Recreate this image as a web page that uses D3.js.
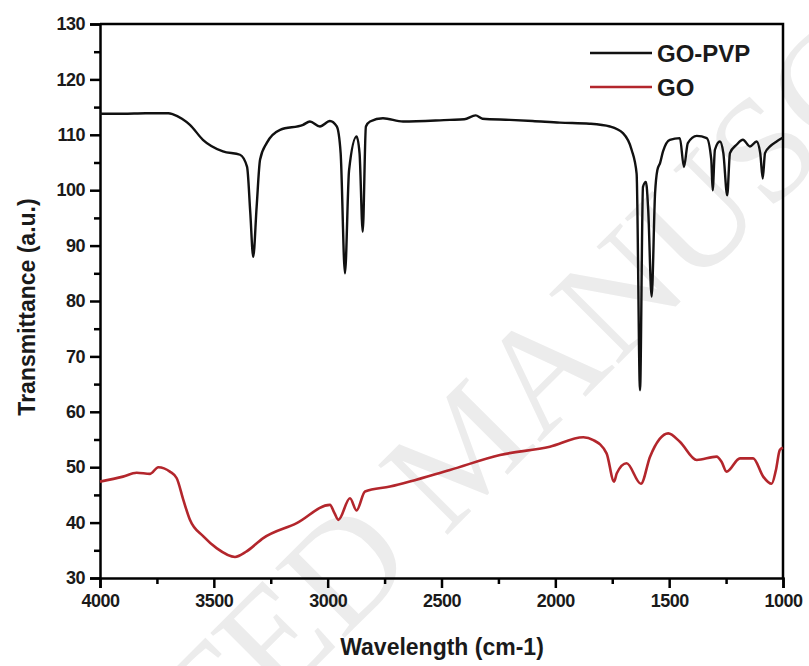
<!DOCTYPE html>
<html>
<head>
<meta charset="utf-8">
<script src="https://cdn.jsdelivr.net/npm/d3@7"></script>
<style>
  body { margin: 0; background: #fff; }
  svg { display: block; font-family: "Liberation Sans", Arial, sans-serif; }
</style>
</head>
<body>
<div id="chart"></div>
<script>
// wavenumber (cm-1) and transmittance
const pvpWave = [4000, 3900, 3800, 3700, 3679, 3640, 3605, 3548, 3460, 3385, 3354, 3340, 3327, 3312, 3297, 3268, 3209,
  3108, 3078, 3034, 2990, 2960, 2943, 2924, 2906, 2873, 2860, 2846, 2832, 2814, 2757, 2669, 2463, 2400, 2350, 2320,
  2200, 2100, 1980, 1850, 1760, 1703, 1665, 1643, 1628, 1615, 1602, 1592, 1577, 1562, 1552, 1540, 1527, 1497, 1453,
  1435, 1418, 1379, 1335, 1315, 1309, 1299, 1277, 1262, 1245, 1233, 1204, 1176, 1145, 1116, 1100, 1089, 1079, 1057,
  1028, 1000];
const pvpValue = [113.8, 113.8, 113.9, 113.9, 113.7, 112.9, 111.8, 109.1, 107, 106.4, 104.2, 96, 88, 97, 105.5, 108.5,
  110.9, 111.8, 112.4, 111.5, 112.5, 111.5, 106.7, 85, 103.6, 109.7, 106.7, 92.5, 111.5, 112.4, 113, 112.4, 112.7,
  112.8, 113.5, 112.9, 112.7, 112.5, 112.2, 112, 111.5, 110.3, 107.3, 103, 63.9, 100.6, 101.5, 96.4, 80.8, 99.4,
  103.6, 104.9, 107, 109.1, 109.4, 104.2, 108.5, 109.8, 109.4, 105.5, 100, 107.3, 108.8, 106.7, 99.1, 106.7, 108.2,
  109.1, 107.9, 108.8, 106.7, 102.1, 106.7, 107.9, 108.8, 109.5];

const goWave = [4000, 3899, 3839, 3780, 3744, 3693, 3663, 3634, 3605, 3546, 3488, 3407, 3356, 3283, 3136, 2990, 2970,
  2953, 2902, 2873, 2836, 2726, 2463, 2243, 2024, 1877, 1833, 1775, 1742, 1730, 1687, 1624, 1584, 1504, 1453, 1379,
  1292, 1270, 1248, 1189, 1131, 1087, 1050, 1031, 1014, 1000];
const goValue = [47.4, 48.3, 49, 48.8, 50, 49.2, 48, 44.1, 40.5, 37.5, 35.4, 33.8, 34.8, 37.2, 39.9, 43.2, 41.7, 40.5,
  44.4, 42.2, 45.6, 46.5, 49.5, 52.2, 53.7, 55.4, 54.9, 52.5, 47.4, 48.9, 50.7, 47, 51.9, 56.1, 54.6, 51.3, 51.9, 51,
  49.2, 51.6, 51.6, 48.3, 47, 49.5, 53.1, 53.5];

const seriesNames = ["GO-PVP", "GO"];
const seriesColors = ["#111111", "#b3262c"];
const xTicks = [4000, 3500, 3000, 2500, 2000, 1500, 1000];
const yTicks = [30, 40, 50, 60, 70, 80, 90, 100, 110, 120, 130];

const width = 809, height = 666;
const margin = { top: 24, right: 26, bottom: 88, left: 100 };
const innerW = width - margin.left - margin.right;
const innerH = height - margin.top - margin.bottom;

const svg = d3.select("#chart").append("svg")
  .attr("width", width)
  .attr("height", height);

// faint watermark, clipped by the page like in the scan
svg.append("text")
  .attr("transform", "translate(462,446) rotate(-45)")
  .attr("text-anchor", "middle")
  .attr("dy", "0.35em")
  .style("font-family", "'Liberation Serif', serif")
  .style("font-size", "150px")
  .attr("fill", "#ececec")
  .text("ACCEPTED MANUSCRIPT");

const g = svg.append("g")
  .attr("transform", "translate(" + margin.left + "," + margin.top + ")");

const x = d3.scaleLinear().domain([4000, 1000]).range([0, innerW]);
const y = d3.scaleLinear().domain([30, 130]).range([innerH, 0]);

// frame (top and right)
g.append("path")
  .attr("d", "M0,0H" + innerW + "V" + innerH)
  .attr("fill", "none")
  .attr("stroke", "#000")
  .attr("stroke-width", 2.5);

// minor ticks
const xMinor = d3.range(4000, 999, -250).filter(d => d % 500 !== 0);
const yMinor = d3.range(35, 130, 10);

g.append("g")
  .attr("transform", "translate(0," + innerH + ")")
  .call(d3.axisBottom(x).tickValues(xTicks).tickSize(10).tickPadding(6).tickFormat(d3.format("d")));
g.append("g")
  .attr("transform", "translate(0," + innerH + ")")
  .call(d3.axisBottom(x).tickValues(xMinor).tickSize(6).tickFormat(""))
  .select(".domain").remove();

g.append("g")
  .call(d3.axisLeft(y).tickValues(yTicks).tickSize(10).tickPadding(5));
g.append("g")
  .call(d3.axisLeft(y).tickValues(yMinor).tickSize(6).tickFormat(""))
  .select(".domain").remove();

g.selectAll(".domain").attr("stroke-width", 2.5).attr("stroke", "#000");
g.selectAll(".tick line").attr("stroke-width", 2.5).attr("stroke", "#000");
g.selectAll(".tick text")
  .style("font-size", "18px")
  .style("font-weight", "bold")
  .style("letter-spacing", "-0.5px")
  .attr("fill", "#1a1a1a");

// curves
const line = d3.line()
  .x(d => x(d[0]))
  .y(d => y(d[1]))
  .curve(d3.curveMonotoneX);

const pvp = pvpWave.map((w, i) => [w, pvpValue[i]]);
const go = goWave.map((w, i) => [w, goValue[i]]);

g.append("path")
  .datum(go)
  .attr("d", line)
  .attr("fill", "none")
  .attr("stroke", seriesColors[1])
  .attr("stroke-width", 2.6)
  .attr("stroke-linejoin", "round");

g.append("path")
  .datum(pvp)
  .attr("d", line)
  .attr("fill", "none")
  .attr("stroke", seriesColors[0])
  .attr("stroke-width", 2.4)
  .attr("stroke-linejoin", "round");

// legend
const legend = svg.append("g");
seriesNames.forEach((name, i) => {
  const ly = 53 + i * 34;
  legend.append("line")
    .attr("x1", 590).attr("x2", 652)
    .attr("y1", ly).attr("y2", ly)
    .attr("stroke", seriesColors[i])
    .attr("stroke-width", 2.6);
  legend.append("text")
    .attr("x", 657).attr("y", ly)
    .attr("dy", "0.36em")
    .style("font-size", "24px")
    .style("font-weight", "bold")
    .attr("fill", "#1a1a1a")
    .text(name);
});

// axis titles
svg.append("text")
  .attr("x", 442).attr("y", 655)
  .attr("text-anchor", "middle")
  .style("font-size", "23px")
  .style("font-weight", "bold")
  .attr("fill", "#1a1a1a")
  .text("Wavelength (cm-1)");

svg.append("text")
  .attr("transform", "translate(35,307) rotate(-90)")
  .attr("text-anchor", "middle")
  .style("font-size", "23px")
  .style("font-weight", "bold")
  .attr("fill", "#1a1a1a")
  .text("Transmittance (a.u.)");
</script>
</body>
</html>
